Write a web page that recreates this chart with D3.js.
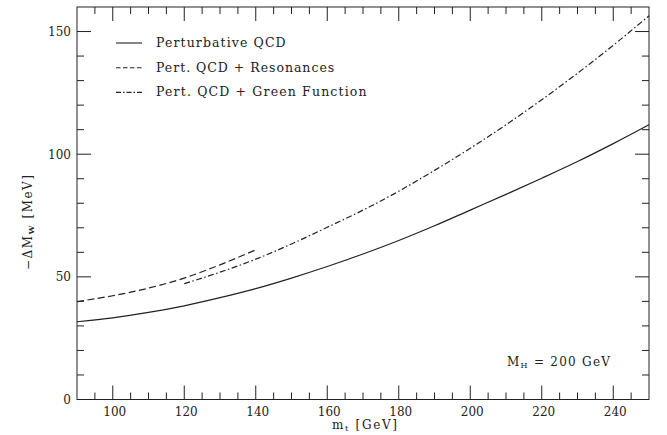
<!DOCTYPE html>
<html><head><meta charset="utf-8">
<script src="https://cdn.jsdelivr.net/npm/d3@7"></script>
<style>
body{margin:0;background:#fff;}
svg{display:block;}
text{font-family:"DejaVu Serif","Liberation Serif",serif;fill:#222;}
</style></head>
<body><svg id="c" width="667" height="435"></svg>
<script>
// ---- data ----
const mtPert = [90,100,110,120,130,140,150,160,170,180,190,200,210,220,230,240,250];
const dMPert = [31.7,33.3,35.5,38.2,41.5,45.2,49.5,54.2,59.3,64.8,70.8,77.2,83.6,90.2,97.0,104.3,112.0];
const mtRes = [90,100,110,120,130,140];
const dMRes = [39.9,42.3,45.4,49.5,54.9,61.0];
const mtGreen = [120,130,140,150,160,170,180,190,200,210,220,230,240,250];
const dMGreen = [47.2,51.9,57.2,63.4,70.2,77.2,84.9,93.4,102.4,112.0,122.2,133.0,144.4,156.4];
const xTickLabels = [100,120,140,160,180,200,220,240];
const yTickLabels = [0,50,100,150];
const legendLabels = ["Perturbative QCD","Pert. QCD + Resonances","Pert. QCD + Green Function"];

const svg = d3.select("#c");
const L=77,R=649,T=7,B=399.5;
const x = d3.scaleLinear().domain([90,250]).range([L,R]);
const y = d3.scaleLinear().domain([0,160]).range([B,T]);
const ink="#222";

// frame
svg.append("rect").attr("x",L).attr("y",T).attr("width",R-L).attr("height",B-T)
  .attr("fill","none").attr("stroke",ink).attr("stroke-width",1);

// ticks
const xMinor = d3.range(95,250,5);
const yMinor = d3.range(10,160,10);
const g = svg.append("g").attr("stroke",ink).attr("stroke-width",1);
xMinor.forEach(v=>{
  const len = (v%20===0)?14:7;
  g.append("line").attr("x1",x(v)).attr("x2",x(v)).attr("y1",B).attr("y2",B-len);
  g.append("line").attr("x1",x(v)).attr("x2",x(v)).attr("y1",T).attr("y2",T+len);
});
yMinor.forEach(v=>{
  const len = (v%50===0)?14:7;
  g.append("line").attr("y1",y(v)).attr("y2",y(v)).attr("x1",L).attr("x2",L+len);
  g.append("line").attr("y1",y(v)).attr("y2",y(v)).attr("x1",R).attr("x2",R-len);
});

// tick labels
svg.append("g").selectAll("text").data(xTickLabels).join("text")
  .attr("x",d=>x(d)+2).attr("y",416).attr("text-anchor","middle")
  .attr("font-size",12).text(d=>d);
svg.append("g").selectAll("text").data(yTickLabels).join("text")
  .attr("x",71).attr("y",d=>y(d)+4.5).attr("text-anchor","end")
  .attr("font-size",12).text(d=>d);

// axis titles
const xt = svg.append("text").attr("x",332).attr("y",429).attr("font-size",12)
  .attr("textLength",65).attr("lengthAdjust","spacing");
xt.append("tspan").text("m");
xt.append("tspan").attr("font-size",8).attr("dy",2).text("t");
xt.append("tspan").attr("dy",-2).text("  [GeV]");

const yt = svg.append("text").attr("transform","translate(32,270) rotate(-90)")
  .attr("font-size",12).attr("textLength",95).attr("lengthAdjust","spacing");
yt.append("tspan").text("\u2212\u0394M");
yt.append("tspan").attr("font-size",8).attr("font-weight","bold").attr("dy",2).text("W");
yt.append("tspan").attr("dy",-2).text("  [MeV]");

// curves
const line = d3.line().x(d=>x(d[0])).y(d=>y(d[1])).curve(d3.curveMonotoneX);
const styles = [null,"7,3.5","6,2.5,1.5,2.5"];
const series = [d3.zip(mtPert,dMPert), d3.zip(mtRes,dMRes), d3.zip(mtGreen,dMGreen)];
series.forEach((s,i)=>{
  const p = svg.append("path").attr("d",line(s)).attr("fill","none")
    .attr("stroke",ink).attr("stroke-width",1.2);
  if(styles[i]) p.attr("stroke-dasharray",styles[i]);
});

// legend
legendLabels.forEach((lab,i)=>{
  const by = 47 + i*24.7;
  const ln = svg.append("line").attr("x1",116).attr("x2",142).attr("y1",by-4).attr("y2",by-4)
    .attr("stroke",ink).attr("stroke-width",1.1);
  if(styles[i]) ln.attr("stroke-dasharray", i===1?"4.5,2.5":"5,2,1.5,2");
  svg.append("text").attr("x",156).attr("y",by).attr("font-size",12.5)
    .attr("textLength", lab.length*8.1).attr("lengthAdjust","spacing").text(lab);
});

// annotation
const an = svg.append("text").attr("x",507).attr("y",366).attr("font-size",12)
  .attr("textLength",103).attr("lengthAdjust","spacing");
an.append("tspan").text("M");
an.append("tspan").attr("font-size",8).attr("dy",2).text("H");
an.append("tspan").attr("dy",-2).text(" =  200 GeV");
</script></body></html>
